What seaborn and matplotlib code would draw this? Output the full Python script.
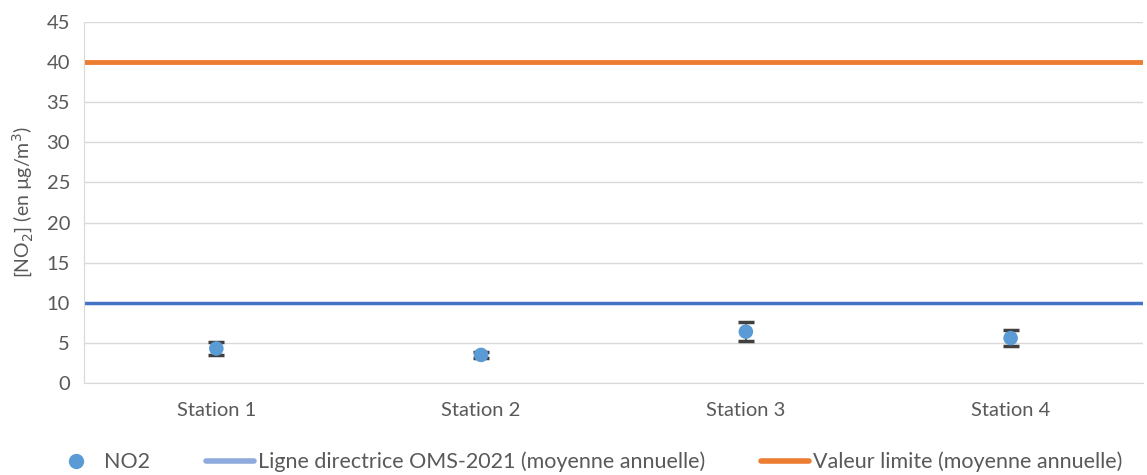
import numpy as np
import pandas as pd
import matplotlib
matplotlib.use("Agg")
import matplotlib.pyplot as plt
import seaborn as sns
from matplotlib.lines import Line2D

stations = ["Station 1", "Station 2", "Station 3", "Station 4"]
no2 = [4.3, 3.5, 6.4, 5.6]
no2_err = [0.8, 0.35, 1.2, 1.0]
oms_2021 = 10
valeur_limite = 40

sns.set_style("white")
plt.rcParams["font.family"] = ["Lato", "DejaVu Sans"]

txt = "#595959"
df = pd.DataFrame({"station": stations, "no2": no2, "err": no2_err})

fig = plt.figure(figsize=(11.47, 4.75), dpi=100)
ax = fig.add_axes([0.0732, 0.1937, 0.9233, 0.76])

ax.axhline(oms_2021, color="#4472C4", lw=2.5, zorder=2)
ax.axhline(valeur_limite, color="#ED7D31", lw=3.5, zorder=2)

x = np.arange(len(stations))
ax.errorbar(x, df["no2"], yerr=df["err"], fmt="none", ecolor="#404040",
            elinewidth=1.2, capsize=6, capthick=2.5, zorder=3)
sns.scatterplot(data=df, x="station", y="no2", color="#5B9BD5", s=110,
                edgecolor="none", ax=ax, zorder=4, legend=False)

ax.set_xlim(-0.5, 3.5)
ax.set_ylim(0, 45)
ax.set_yticks(range(0, 46, 5))
ax.yaxis.grid(True, color="#D9D9D9", lw=1)
ax.set_axisbelow(True)
for s in ["top", "right"]:
    ax.spines[s].set_visible(False)
for s in ["left", "bottom"]:
    ax.spines[s].set_color("#D9D9D9")
ax.tick_params(axis="y", colors=txt, labelsize=14.5, length=0, pad=10)
ax.tick_params(axis="x", colors=txt, labelsize=14.5, length=0, pad=14)
ax.set_xlabel("")
ax.set_ylabel("[NO$_2$] (en µg/m$^3$)", color=txt, fontsize=14, labelpad=8)

handles = [
    Line2D([], [], marker="o", ls="none", color="#5B9BD5", markersize=10),
    Line2D([], [], color="#8FAADC", lw=4),
    Line2D([], [], color="#ED7D31", lw=4),
]
labels = ["NO2", "Ligne directrice OMS-2021 (moyenne annuelle)",
          "Valeur limite (moyenne annuelle)"]
leg = fig.legend(handles, labels, loc="lower left", bbox_to_anchor=(0.029, -0.035),
                 ncol=3, frameon=False, fontsize=15.5, handlelength=2.2,
                 handletextpad=0.2, columnspacing=2.6)
for t in leg.get_texts():
    t.set_color(txt)

fig.savefig("out.png", dpi=100)
